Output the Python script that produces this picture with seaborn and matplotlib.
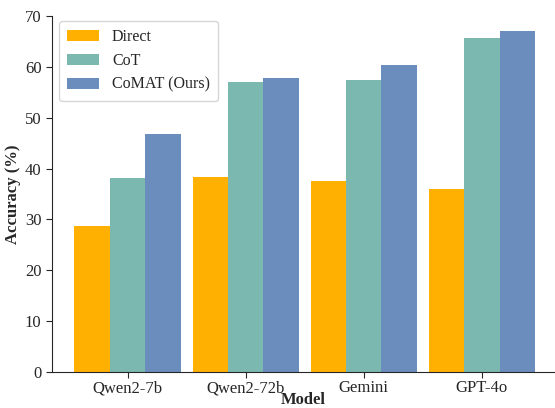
import pandas as pd
import matplotlib.pyplot as plt
import seaborn as sns

models = ['Qwen2-7b', 'Qwen2-72b', 'Gemini', 'GPT-4o']
methods = ['Direct', 'CoT', 'CoMAT (Ours)']
direct = [28.7, 38.3, 37.5, 36.0]
cot = [38.1, 57.1, 57.5, 65.7]
comat = [46.7, 57.9, 60.3, 67.1]
colors = ['#FFB000', '#7AB8B0', '#6B8DBE']

rows = []
for name, vals in zip(methods, [direct, cot, comat]):
    for m, v in zip(models, vals):
        rows.append({'Model': m, 'Method': name, 'Accuracy': v})
df = pd.DataFrame(rows)

sns.set_style('ticks')
plt.rcParams['font.family'] = ['Liberation Serif', 'DejaVu Serif']

fig = plt.figure(figsize=(5.55, 4.08), dpi=100)
ax = fig.add_axes([52 / 555, 36 / 408, 503 / 555, 356 / 408])

sns.barplot(data=df, x='Model', y='Accuracy', hue='Method', palette=colors,
            width=0.9, saturation=1, linewidth=0, ax=ax)

ax.set_ylim(0, 70)
ax.set_xlim(-0.64, 3.62)
ax.set_xlabel('Model', fontsize=12, fontweight='bold', labelpad=-3)
ax.set_ylabel('Accuracy (%)', fontsize=12, fontweight='bold', labelpad=3)
ax.tick_params(labelsize=12, length=4)
ax.tick_params(axis='x', pad=2)
sns.despine(ax=ax)

ax.legend(loc='upper left', fontsize=11.5, frameon=True, handlelength=2.0,
          handletextpad=0.8, borderpad=0.5, borderaxespad=0.3,
          bbox_to_anchor=(0.005, 1.0))

fig.savefig('out.png', dpi=100)
